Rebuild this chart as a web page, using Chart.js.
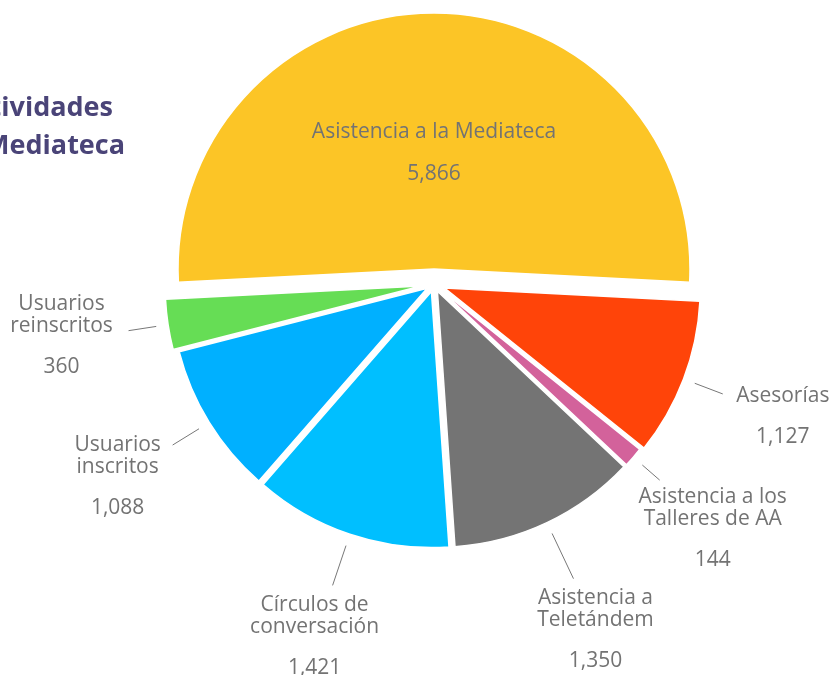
<!DOCTYPE html>
<html lang="es">
<head>
<meta charset="UTF-8">
<script src="https://cdn.jsdelivr.net/npm/chart.js"></script>
<style>
  body { margin: 0; background: #fff; }
  #wrap { position: relative; width: 832px; height: 675px; overflow: hidden; }
  .title { position: absolute; font-family: "Open Sans", sans-serif; font-weight: 700;
           font-size: 27px; color: #4a4478; white-space: nowrap; text-align: right; line-height: 1; }
</style>
</head>
<body>
<div id="wrap">
  <canvas id="pie"></canvas>
  <div class="title" style="right:719px; top:92px;">Actividades</div>
  <div class="title" style="right:707px; top:130px;">de la Mediateca</div>
</div>
<script>
const categories = [
  'Asistencia a la Mediateca',
  'Asesorías',
  ['Asistencia a los', 'Talleres de AA'],
  ['Asistencia a', 'Teletándem'],
  ['Círculos de', 'conversación'],
  ['Usuarios', 'inscritos'],
  ['Usuarios', 'reinscritos']
];
const values = [5866, 1127, 144, 1350, 1421, 1088, 360];
const colors = ['#fcc526', '#ff4409', '#d3629b', '#747474', '#00bfff', '#00b0ff', '#66dd55'];

// how far each slice is pulled out from the centre
const explode = [15, 11, 8, 8, 8, 8, 13];
// leader line length and label offset (first line centre, relative to line end)
const leaderLen = [0, 30, 23, 50, 42, 31, 28];
const labelOffset = [[0, 0], [60, 2], [53, 17], [22, 19], [-18, 20], [-55, 0], [-67, -27]];

const total = values.reduce((a, b) => a + b, 0);
const startRot = -(values[0] / total) * 180;

const explodePlugin = {
  id: 'explode',
  afterDatasetsUpdate(chart) {
    const meta = chart.getDatasetMeta(0);
    const cx = (chart.chartArea.left + chart.chartArea.right) / 2;
    const cy = (chart.chartArea.top + chart.chartArea.bottom) / 2;
    meta.data.forEach((arc, i) => {
      const mid = (arc.startAngle + arc.endAngle) / 2;
      arc.x = cx + Math.cos(mid) * explode[i];
      arc.y = cy + Math.sin(mid) * explode[i];
    });
  }
};

const labelPlugin = {
  id: 'pieLabels',
  afterDatasetsDraw(chart) {
    const ctx = chart.ctx;
    const meta = chart.getDatasetMeta(0);
    ctx.save();
    ctx.font = '21px "Open Sans"';
    ctx.fillStyle = '#737373';
    ctx.textAlign = 'center';
    ctx.textBaseline = 'middle';
    meta.data.forEach((arc, i) => {
      const mid = (arc.startAngle + arc.endAngle) / 2;
      const r = arc.outerRadius;
      const lines = [].concat(categories[i]);
      const val = values[i].toLocaleString('en-US');
      if (i === 0) {
        ctx.fillText(lines[0], arc.x + Math.cos(mid) * r * 0.535, arc.y + Math.sin(mid) * r * 0.535);
        ctx.fillText(val, arc.x + Math.cos(mid) * r * 0.372, arc.y + Math.sin(mid) * r * 0.372);
        return;
      }
      const sx = arc.x + Math.cos(mid) * (r + 12);
      const sy = arc.y + Math.sin(mid) * (r + 12);
      const ex = arc.x + Math.cos(mid) * (r + 12 + leaderLen[i]);
      const ey = arc.y + Math.sin(mid) * (r + 12 + leaderLen[i]);
      ctx.strokeStyle = '#777';
      ctx.lineWidth = 1;
      ctx.beginPath();
      ctx.moveTo(sx, sy);
      ctx.lineTo(ex, ey);
      ctx.stroke();
      const tx = ex + labelOffset[i][0];
      const ty = ey + labelOffset[i][1];
      lines.forEach((ln, k) => ctx.fillText(ln, tx, ty + k * 22));
      ctx.fillText(val, tx, ty + (lines.length - 1) * 22 + 41);
    });
    ctx.restore();
  }
};

new Chart(document.getElementById('pie'), {
  type: 'pie',
  data: {
    labels: categories,
    datasets: [{
      data: values,
      backgroundColor: colors,
      borderColor: '#ffffff',
      borderWidth: 1.5,
      radius: 256
    }]
  },
  options: {
    responsive: true,
    maintainAspectRatio: false,
    animation: false,
    rotation: startRot,
    layout: { padding: { left: 36, right: 0, top: 0, bottom: 107 } },
    plugins: { legend: { display: false }, tooltip: { enabled: false } }
  },
  plugins: [explodePlugin, labelPlugin]
});
</script>
</body>
</html>
